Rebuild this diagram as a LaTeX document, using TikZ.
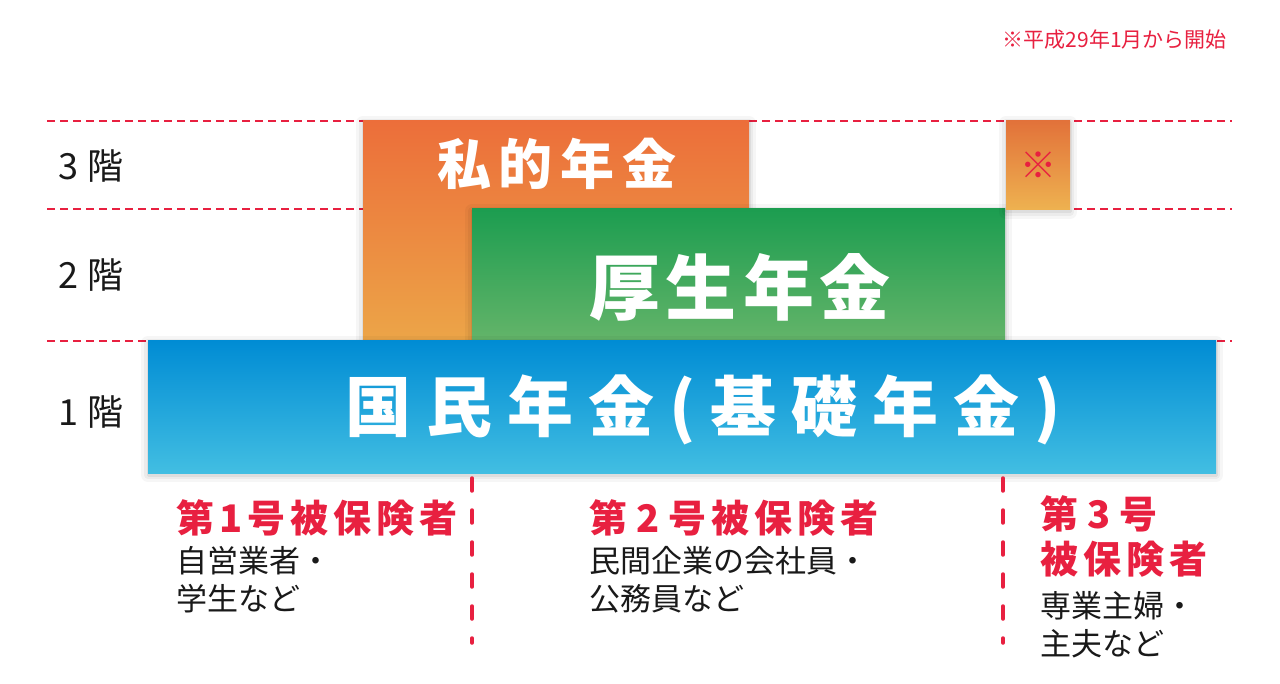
\documentclass[tikz,border=0pt]{standalone}
\usepackage{fontspec}
\newfontfamily\jp{Noto Sans CJK JP}
\definecolor{jred}{RGB}{232,32,64}
\definecolor{orT}{RGB}{236,110,58}
\definecolor{orB}{RGB}{236,166,72}
\definecolor{grT}{RGB}{28,157,80}
\definecolor{grB}{RGB}{102,181,106}
\definecolor{blT}{RGB}{0,140,212}
\definecolor{blM}{RGB}{0,168,220}
\definecolor{blB}{RGB}{66,190,226}
\definecolor{smT}{RGB}{226,114,58}
\definecolor{smB}{RGB}{238,178,80}
\definecolor{ink}{RGB}{25,25,25}
\newdimen\jpgap
\def\jpsp#1{\jpspfirst#1\relax}
\def\jpspfirst#1{#1\jpsploop}
\def\jpsploop#1{\ifx\relax#1\else\kern\jpgap#1\expandafter\jpsploop\fi}
\begin{document}
\begin{tikzpicture}[x=1pt,y=-1pt,
  hguide/.style={draw=jred,line width=1.8pt,dash pattern=on 8pt off 5pt},
  vguide/.style={draw=jred,line width=3.5pt,line cap=round,dash pattern=on 13pt off 19pt},
  shadowed/.style={
    preaction={draw=black,draw opacity=0.035,line width=14pt,line join=round,transform canvas={yshift=-2pt}},
    preaction={draw=black,draw opacity=0.045,line width=8pt,line join=round,transform canvas={yshift=-2pt}},
    preaction={draw=black,draw opacity=0.06,line width=3pt,line join=round,transform canvas={yshift=-2pt}}},
  box/.style={rectangle,inner sep=0pt,outer sep=0pt,shadowed},
  title/.style={text=white,inner sep=0pt},
  floorlbl/.style={text=ink,inner sep=0pt,anchor=west,font={\jp\fontsize{36}{40}\selectfont}},
  head/.style={text=jred,inner sep=0pt,align=left,font={\jp\bfseries\fontsize{38}{45}\selectfont\jpgap=5pt}},
  sub/.style={text=ink,inner sep=0pt,align=left,anchor=north west,font={\jp\fontsize{31}{38}\selectfont}}
]
\fill[white] (0,0) rectangle (1280,684);
\useasboundingbox (0,0) rectangle (1280,684);
% guide lines
\coordinate (g1a) at (47,121); \coordinate (g1b) at (1232,121);
\coordinate (g2a) at (47,209); \coordinate (g2b) at (1232,209);
\coordinate (g3a) at (47,341); \coordinate (g3b) at (1232,341);
\draw[hguide] (g1a) -- (g1b);
\draw[hguide] (g2a) -- (g2b);
\draw[hguide] (g3a) -- (g3b);
% boxes
\node[box,top color=orT,bottom color=orB,minimum width=386pt,minimum height=224pt] (priv) at (556,233) {};
\node[box,top color=grT,bottom color=grB,minimum width=533pt,minimum height=136pt] (kose) at (738.5,277) {};
\node[box,top color=smT,bottom color=smB,minimum width=64pt,minimum height=89pt] (small) at (1038,165.5) {};
\node[box,top color=blT,middle color=blM,bottom color=blB,minimum width=1068pt,minimum height=132pt] (kiso) at (682,407) {};
% titles
\node[title,font={\jp\bfseries\fontsize{54}{60}\selectfont\jpgap=8pt}] (tp) at (557,164) {\jpsp{私的年金}};
\node[title,font={\jp\bfseries\fontsize{71}{80}\selectfont\jpgap=6pt}] (tk) at (740,287) {\jpsp{厚生年金}};
\node[title,font={\jp\bfseries\fontsize{66}{72}\selectfont\jpgap=15pt}] (tn) at (703,410) {\jpsp{国民年金(基礎年金)}};
\node[text=jred,inner sep=0pt,font={\jp\fontsize{36}{40}\selectfont}] (mark) at (small.center) {※};
% floor labels
\node[floorlbl] (f3) at (58,166) {3\kern9pt\relax 階};
\node[floorlbl] (f2) at (58,275) {2\kern9pt\relax 階};
\node[floorlbl] (f1) at (58,412) {1\kern9pt\relax 階};
% note
\node[text=jred,inner sep=0pt,anchor=east,font={\jp\fontsize{21}{24}\selectfont}] (note) at (1227,40) {※平成29年1月から開始};
% vertical dividers
\coordinate (v1a) at (472,478); \coordinate (v1b) at (472,643);
\coordinate (v2a) at (1003,478); \coordinate (v2b) at (1003,643);
\draw[vguide] (v1a) -- (v1b);
\draw[vguide] (v2a) -- (v2b);
% insured categories
\node[head,anchor=west] (h1) at (176,518) {\jpsp{第1号被保険者}};
\node[sub] (s1) at (176,546) {自営業者・\\学生など};
\node[head,anchor=west] (h2) at (589,518) {第\kern9pt 2\kern9pt \jpsp{号被保険者}};
\node[sub] (s2) at (589,546) {民間企業の会社員・\\公務員など};
\node[head,anchor=north west] (h3) at (1040,495) {第\kern9pt 3\kern9pt 号\\\jpsp{被保険者}};
\node[sub] (s3) at (1040,591) {専業主婦・\\主夫など};
\end{tikzpicture}
\end{document}
